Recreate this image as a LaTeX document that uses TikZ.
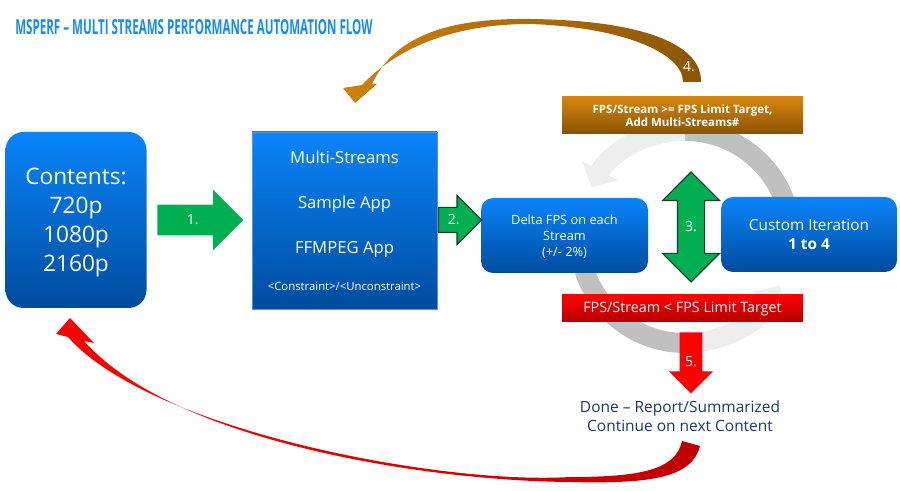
\documentclass[tikz,border=0pt]{standalone}
\usepackage{fontspec}
\setmainfont{Open Sans}
\usepackage{tikz}
\usetikzlibrary{arrows.meta, positioning, shapes.arrows, calc}

\definecolor{titleblue}{RGB}{16,140,255}
\definecolor{boxtop}{RGB}{10,132,250}
\definecolor{boxbottom}{RGB}{0,76,158}
\definecolor{boxedge}{RGB}{80,150,230}
\definecolor{stepgreen}{RGB}{0,176,80}
\definecolor{greenline}{RGB}{30,56,48}
\definecolor{ambertop}{RGB}{214,134,14}
\definecolor{amberbottom}{RGB}{138,82,4}
\definecolor{amberleft}{RGB}{206,130,14}
\definecolor{amberright}{RGB}{140,86,6}
\definecolor{redtop}{RGB}{255,0,0}
\definecolor{redbottom}{RGB}{180,0,0}
\definecolor{redleft}{RGB}{255,0,0}
\definecolor{redright}{RGB}{192,0,0}
\definecolor{navytext}{RGB}{24,56,110}
\definecolor{loopdark}{RGB}{192,192,192}
\definecolor{looplight}{RGB}{238,238,238}

\begin{document}
\begin{tikzpicture}[
  x=0.75pt, y=0.75pt,
  >=Latex,
  bluebox/.style={rectangle, top color=boxtop, bottom color=boxbottom, text=white, align=center, inner sep=2pt},
  barbox/.style={rectangle, text=white, align=center, inner sep=1pt, minimum width=180.75pt},
  steplabel/.style={text=white, font=\fontsize{10.5}{12}\selectfont},
  loopband/.style={line width=15pt}
]
  \useasboundingbox (0,0) rectangle (900,-491);

  % Title
  \node[anchor=west, inner sep=0pt, text=titleblue, font=\bfseries\fontsize{15.5}{17}\selectfont] (title) at (15,-27)
    {\scalebox{0.56}[1]{MSPERF – MULTI STREAMS PERFORMANCE AUTOMATION FLOW}};

  % Iteration loop behind the boxes
  \coordinate (loop) at (685,-237);
  \draw[loopband, loopdark] ($(loop)+(0:79.5pt)$) arc[start angle=0, end angle=90, radius=79.5pt];
  \draw[loopband, looplight, -{Triangle[width=30pt, length=14pt]}] ($(loop)+(90:79.5pt)$) arc[start angle=90, end angle=152, radius=79.5pt];
  \draw[loopband, loopdark] ($(loop)+(195:79.5pt)$) arc[start angle=195, end angle=270, radius=79.5pt];
  \draw[loopband, looplight, -{Triangle[width=30pt, length=14pt]}] ($(loop)+(270:79.5pt)$) arc[start angle=270, end angle=333, radius=79.5pt];

  % Boxes
  \node[bluebox, rounded corners=13.5pt, minimum width=105.75pt, minimum height=132pt, text depth=-1.9pt,
        font=\fontsize{17}{21.75}\selectfont] (contents) at (76,-220)
    {Contents:\\720p\\1080p\\2160p};
  \node[bluebox, draw=boxedge, line width=0.6pt, minimum width=138.75pt, minimum height=132.75pt,
        font=\fontsize{12.5}{15}\selectfont] (apps) at (344.5,-220.5)
    {Multi-Streams\\[18.75pt]Sample App\\[18.75pt]FFMPEG App\\[12.75pt]{\fontsize{8.5}{10}\selectfont <Constraint>/<Unconstraint>}};
  \node[bluebox, rounded corners=9pt, minimum width=125.25pt, minimum height=56.25pt, text depth=-0.7pt,
        font=\fontsize{9.6}{12}\selectfont] (delta) at (564.5,-235.5)
    {Delta FPS on each\\Stream\\(+/- 2\%)};
  \node[bluebox, rounded corners=9pt, minimum width=132pt, minimum height=56.25pt,
        font=\fontsize{11.5}{14.25}\selectfont] (custom) at (809,-234.5)
    {Custom Iteration\\\textbf{1 to 4}};

  % Condition bars
  \node[barbox, top color=ambertop, bottom color=amberbottom, minimum height=27.75pt,
        font=\bfseries\fontsize{8.6}{9.75}\selectfont] (addbar) at (682.5,-115.5)
    {FPS/Stream >= FPS Limit Target,\\Add Multi-Streams\#};
  \node[barbox, top color=redtop, bottom color=redbottom, minimum height=20.25pt,
        font=\fontsize{10.75}{12}\selectfont] (limitbar) at (682.5,-308.5)
    {FPS/Stream < FPS Limit Target};

  % Result text
  \node[text=navytext, align=center, font=\fontsize{11.6}{14.25}\selectfont] (done) at (680,-416.5)
    {Done – Report/Summarized\\Continue on next Content};

  % Step arrows
  \node[single arrow, fill=stepgreen, anchor=tail, inner sep=11.25pt, minimum width=45pt, minimum height=64.5pt,
        single arrow head extend=11.25pt, label={[steplabel]center:1.}] (go1) at (157,-220) {};
  \node[single arrow, fill=stepgreen, draw=greenline, line width=0.8pt, anchor=tail, inner sep=9pt, minimum width=36pt,
        minimum height=32.25pt, single arrow head extend=9pt, label={[steplabel]center:2.}] (go2) at (438,-220) {};
  \node[double arrow, shape border rotate=90, fill=stepgreen, draw=greenline, line width=0.8pt, inner sep=9.75pt,
        minimum width=42pt, minimum height=82.5pt, double arrow head extend=11.25pt,
        label={[steplabel]center:3.}] (go3) at (691,-227) {};
  \node[single arrow, shape border rotate=270, fill=redtop, anchor=tail, inner sep=8.25pt, minimum width=32.25pt,
        minimum height=45.75pt, single arrow head extend=7.9pt, label={[steplabel, yshift=-3pt]center:5.}] (go5) at (691,-332) {};

  % Curved return arrows
  \shade[left color=amberleft, right color=amberright]
    (683,-82) .. controls (683,-52) and (620,-27) .. (530,-24)
    .. controls (450,-24) and (395,-50) .. (362,-85)
    -- (343,-88) -- (355,-103) -- (377,-84) -- (372,-84)
    .. controls (395,-35) and (450,-18) .. (530,-19)
    .. controls (630,-20) and (702,-40) .. (701,-82) -- cycle;
  \node[steplabel] (lab4) at (689,-67) {4.};

  \shade[left color=redleft, right color=redright]
    (682,-441) .. controls (676,-470) and (640,-477) .. (570,-477)
    .. controls (440,-485) and (150,-430) .. (68,-337)
    -- (56,-334) -- (70,-318) -- (94,-343) -- (84,-341)
    .. controls (175,-443) and (430,-481) .. (570,-482)
    .. controls (650,-484) and (692,-478) .. (700,-446) -- cycle;
\end{tikzpicture}
\end{document}
